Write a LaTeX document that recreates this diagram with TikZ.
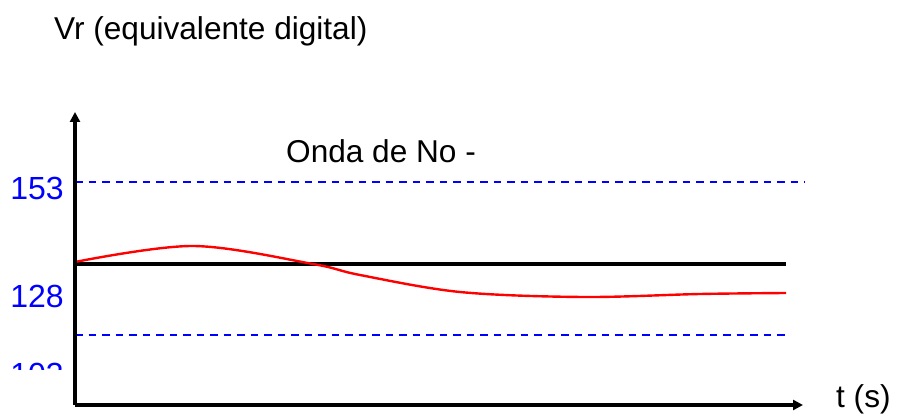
\documentclass[tikz,border=0pt]{standalone}
\usepackage{fontspec}
\setmainfont{Liberation Sans}
\usetikzlibrary{arrows.meta}
\tikzset{
  lbl/.style={inner sep=0pt, font=\fontsize{32}{32}\selectfont, text=blue},
  txt/.style={inner sep=0pt, font=\fontsize{31.6}{32}\selectfont, text=black},
  axisline/.style={line width=3.5pt, -{Triangle[length=10pt,width=10pt]}},
  limit/.style={blue, line width=1.5pt, dash pattern=on 7.5pt off 6pt},
  ref/.style={black, line width=3.5pt},
  wave/.style={red, line width=2.4pt}
}
\begin{document}
\begin{tikzpicture}[x=1pt,y=-1pt]
\useasboundingbox (0,0) rectangle (898,419);
\coordinate (O) at (75,405);
\coordinate (Ytop) at (75,112);
\coordinate (Xend) at (803,405);
\coordinate (U0) at (75,182);
\coordinate (U1) at (805,182);
\coordinate (L0) at (75,335);
\coordinate (L1) at (785,335);
\coordinate (R0) at (75,264);
\coordinate (R1) at (786,264);
% dashed limits
\draw[limit] (U0) -- (U1);
\draw[limit] (L0) -- (L1);
% reference line
\draw[ref] (R0) -- (R1);
% response
\draw[wave] plot[smooth, tension=0.55] coordinates {(75,262) (193,246) (313,264) (360,275) (460,292) (583,297) (700,294) (786,293)};
% axes
\draw[axisline] (O) -- (Ytop);
\draw[axisline] (O) -- (Xend);
% labels
\node[lbl, anchor=base east] (l153) at (64,200) {153};
\node[lbl, anchor=base east] (l128) at (64,308) {128};
\begin{scope}
\clip (0,340) rectangle (120,370);
\node[lbl, anchor=base east] (l103) at (64,386) {103};
\end{scope}
\node[txt, anchor=base west] (title) at (54,40) {Vr (equivalente digital)};
\node[txt, anchor=base west] (onda) at (286,163) {Onda de No -};
\node[txt, anchor=base west] (ts) at (836,408) {t (s)};
\end{tikzpicture}
\end{document}
